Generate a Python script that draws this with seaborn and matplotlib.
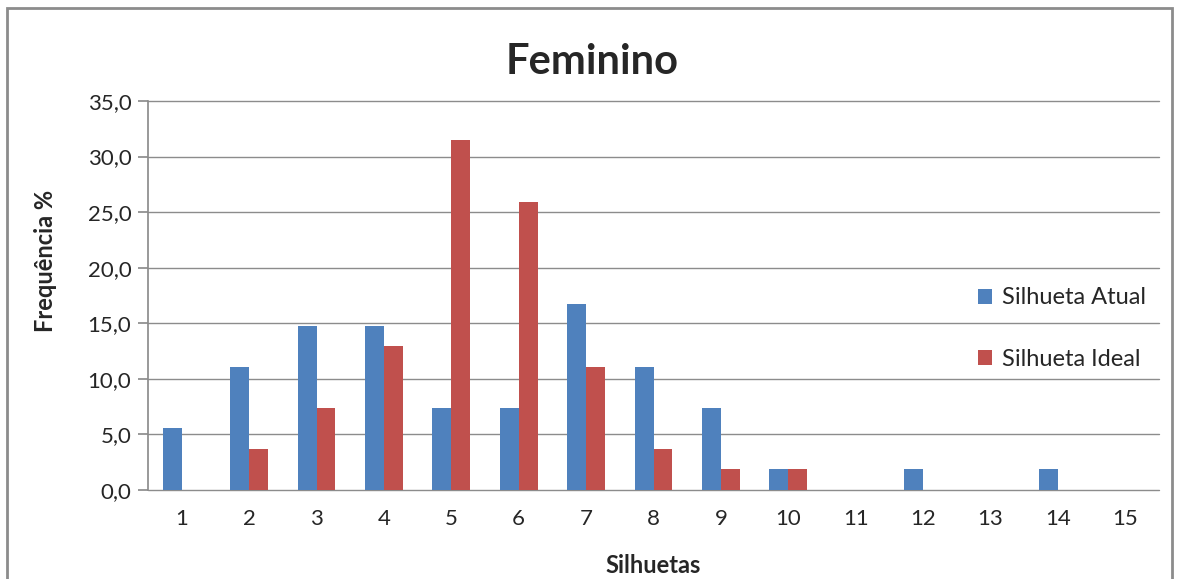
import numpy as np
import pandas as pd
import matplotlib
matplotlib.use('Agg')
import matplotlib.pyplot as plt
from matplotlib.patches import Rectangle
from matplotlib.ticker import FuncFormatter
import seaborn as sns

# data
silhuetas = [str(i) for i in range(1, 16)]
atual = [5.6, 11.1, 14.8, 14.8, 7.4, 7.4, 16.7, 11.1, 7.4, 1.9, 0.0, 1.9, 0.0, 1.9, 0.0]
ideal = [0.0, 3.7, 7.4, 13.0, 31.5, 25.9, 11.1, 3.7, 1.9, 1.9, 0.0, 0.0, 0.0, 0.0, 0.0]
series_names = ["Silhueta Atual", "Silhueta Ideal"]
colors = ["#4F81BD", "#C0504D"]

df = pd.DataFrame({
    "Silhuetas": silhuetas * 2,
    "valor": atual + ideal,
    "serie": [series_names[0]] * len(silhuetas) + [series_names[1]] * len(silhuetas),
})

sns.set_theme(style="white")
plt.rcParams['font.family'] = ['Lato', 'DejaVu Sans']

fig = plt.figure(figsize=(11.84, 5.79), dpi=100)
ax = fig.add_axes([148 / 1184, 1 - 490 / 579, (1159 - 148) / 1184, (490 - 101) / 579])

sns.barplot(data=df, x="Silhuetas", y="valor", hue="serie", palette=colors,
            width=0.56, saturation=1, linewidth=0, ax=ax, legend=True)

ax.set_ylim(0, 35)
ax.set_yticks(np.arange(0, 35.1, 5))
ax.yaxis.set_major_formatter(FuncFormatter(lambda v, p: f"{v:.1f}".replace(".", ",")))
ax.grid(axis="y", color="#8c8c8c", linewidth=1)
for gl in ax.get_ygridlines():
    gl.set_clip_on(False)
ax.set_axisbelow(True)
for s in ["top", "right", "bottom"]:
    ax.spines[s].set_visible(False)
ax.spines["left"].set_color("#8c8c8c")
ax.tick_params(axis="y", length=7, color="#8c8c8c", labelsize=16, pad=5, left=True)
ax.tick_params(axis="x", length=0, labelsize=16, pad=14)

ax.set_xlabel("Silhuetas", fontsize=17, fontweight="bold", va="center")
ax.xaxis.set_label_coords(0.5, -0.193)
ax.set_ylabel("Frequência %", fontsize=17, fontweight="bold", va="center")
ax.yaxis.set_label_coords(-0.101, 0.59)
fig.text(0.5, 0.893, "Feminino", ha="center", va="center", fontsize=30, fontweight="bold")

leg = ax.legend(loc="center left", bbox_to_anchor=(0.8, 0.415), frameon=False,
                fontsize=17, handlelength=0.6, handleheight=0.6, handletextpad=0.4,
                labelspacing=1.7)

# chart border
fig.patches.append(Rectangle((7 / 1184, -0.02), 1165 / 1184, 1 - 8 / 579 + 0.02,
                             transform=fig.transFigure, fill=False,
                             edgecolor="#8c8c8c", linewidth=2))

fig.savefig("out.png", dpi=100)
